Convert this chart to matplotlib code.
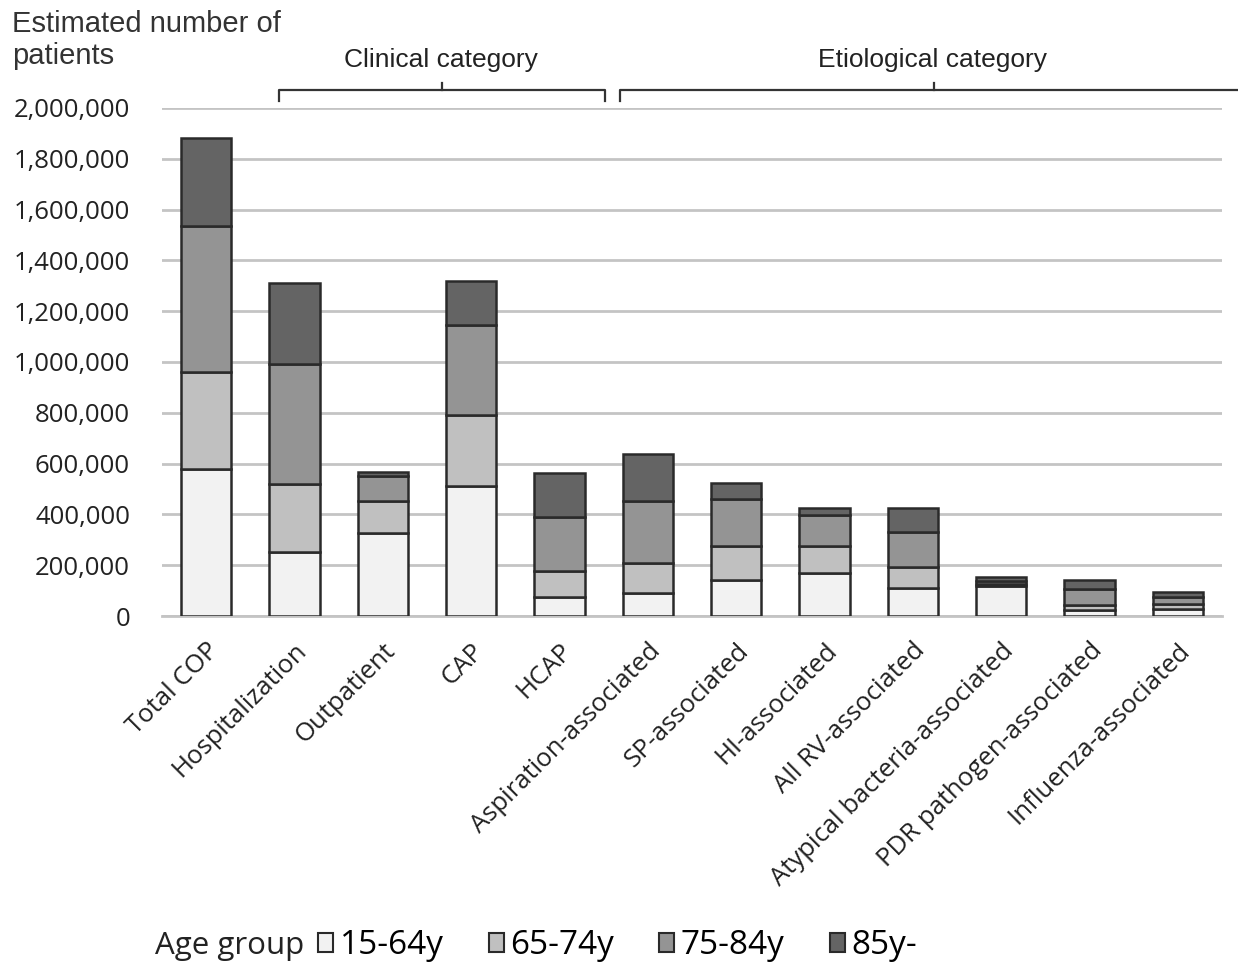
import matplotlib
matplotlib.use("Agg")
import matplotlib.pyplot as plt
from matplotlib.patches import Patch
import numpy as np

categories = ["Total COP", "Hospitalization", "Outpatient", "CAP", "HCAP",
              "Aspiration-associated", "SP-associated", "HI-associated",
              "All RV-associated", "Atypical bacteria-associated",
              "PDR pathogen-associated", "Influenza-associated"]
age_groups = ["15-64y", "65-74y", "75-84y", "85y-"]
v_15_64 = [579000, 252000, 327000, 512000, 75000, 91000, 142000, 169000, 110000, 120000, 25000, 26000]
v_65_74 = [382000, 268000, 126000, 279000, 102000, 118000, 134000, 107000, 83000, 5000, 20000, 20000]
v_75_84 = [574000, 472000, 98000, 355000, 213000, 244000, 185000, 122000, 138000, 12000, 60000, 28000]
v_85 = [347000, 319000, 16000, 173000, 173000, 185000, 63000, 27000, 94000, 17000, 37000, 22000]
series = [v_15_64, v_65_74, v_75_84, v_85]
colors = ["#f2f2f2", "#c0c0c0", "#949494", "#646464"]
yticks = [0, 200000, 400000, 600000, 800000, 1000000, 1200000, 1400000, 1600000, 1800000, 2000000]

fig = plt.figure(figsize=(12.38, 9.68), dpi=100)
ax = fig.add_axes([162/1238, 1-616/968, 1060/1238, 508/968])

x = np.arange(len(categories))
bottom = np.zeros(len(categories))
for vals, col in zip(series, colors):
    ax.bar(x, vals, 0.57, bottom=bottom, color=col, edgecolor="#2a2a2a", linewidth=1.8, zorder=3)
    bottom += np.array(vals)

ax.set_xlim(-0.5, 11.5)
ax.set_ylim(0, 2000000)
ax.set_yticks(yticks)
ax.set_yticklabels([f"{v:,}" for v in yticks], fontsize=18.5, family="Open Sans", color="#222222")
ax.yaxis.grid(True, color="#c4c4c4", linewidth=2, zorder=0)
ax.set_axisbelow(True)
for s in ["left", "right", "top"]:
    ax.spines[s].set_visible(False)
ax.spines["bottom"].set_color("#c4c4c4")
ax.spines["bottom"].set_linewidth(2)
ax.tick_params(axis="both", length=0)
ax.tick_params(axis="y", pad=23)
ax.set_xticks(x)
ax.set_xticklabels(categories, rotation=45, ha="right", va="top", rotation_mode="anchor",
                   fontsize=18.5, family="Open Sans", color="#222222")
ax.tick_params(axis="x", pad=16)

fig.text(12/1238, 1-40/968, "Estimated number of\npatients", ha="left", va="center",
         fontsize=21, family="Liberation Sans", color="#333333", linespacing=1.2)

# brackets
def bracket(x0, x1, xm):
    y_low, y_mid, y_top = 1.014, 1.035, 1.049
    ax.plot([x0, x0, x1, x1], [y_low, y_mid, y_mid, y_low], transform=ax.get_xaxis_transform(),
            color="#333333", linewidth=1.6, clip_on=False)
    ax.plot([xm, xm], [y_mid, y_top], transform=ax.get_xaxis_transform(),
            color="#333333", linewidth=1.6, clip_on=False)

def px2x(px):
    return (px - 162) / 1060 * 12 - 0.5

bracket(px2x(279), px2x(605), px2x(442))
bracket(px2x(620), px2x(1240), px2x(934))
narrow = ["Liberation Sans Narrow", "Liberation Sans"]
ax.text(px2x(441), 1.094, "Clinical category", transform=ax.get_xaxis_transform(),
        ha="center", va="center", fontsize=19, family=narrow, color="#222222")
ax.text(px2x(933), 1.094, "Etiological category", transform=ax.get_xaxis_transform(),
        ha="center", va="center", fontsize=19, family=narrow, color="#222222")

# legend
fig.text(155/1238, 1-946/968, "Age group", ha="left", va="center", fontsize=22.5,
         family="Open Sans", color="#222222")
handles = [Patch(facecolor=c, edgecolor="#2a2a2a", linewidth=1.5) for c in colors]
fig.legend(handles, age_groups, loc="center left", bbox_to_anchor=(288/1238, 1-946/968),
           ncol=4, frameon=False, handlelength=0.45, handleheight=0.5, handletextpad=0.2,
           columnspacing=1.35, prop={"family": "Open Sans", "size": 24})

fig.savefig("out.png", dpi=100)
